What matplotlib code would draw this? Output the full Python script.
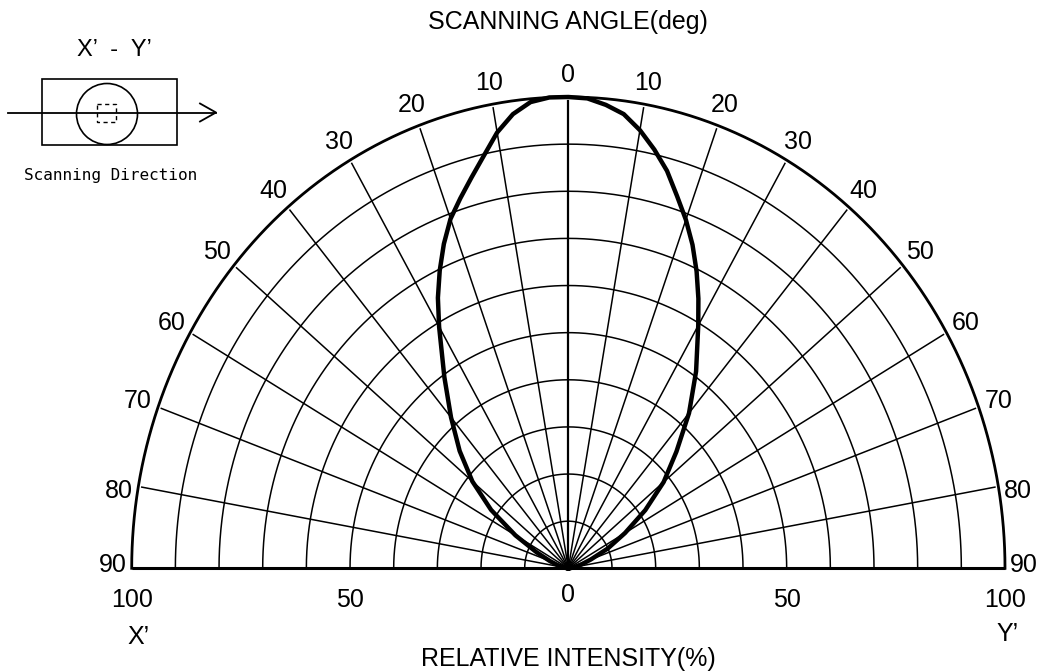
import numpy as np
import matplotlib
matplotlib.use("Agg")
import matplotlib.pyplot as plt
from matplotlib.patches import Rectangle, Circle

# angulos de varredura (graus a partir da vertical) e intensidade relativa (%)
angulos = [0, 2.5, 5, 7.5, 10, 12.5, 15, 17.5, 20, 22.5, 25, 27.5, 30,
           35, 40, 45, 50, 55, 60, 65, 70, 75, 80, 85, 90]
intens_esq = [100, 100, 99.3, 97.2, 93.9, 89.6, 85.8, 82.3, 78.9, 74.5, 69.7, 64.7, 59.2,
              49.5, 41.8, 35.2, 28.7, 21.6, 14.0, 8.0, 4.5, 2.5, 1.2, 0.5, 0]
intens_dir = [100, 99.8, 98.7, 97.2, 94.4, 91.0, 87.3, 82.8, 78.7, 74.3, 69.5, 64.5, 59.5,
              51.0, 43.0, 35.0, 28.5, 21.5, 15.0, 10.0, 5.5, 3.0, 1.5, 0.5, 0]

aneis = [10, 20, 30, 40, 50, 60, 70, 80, 90, 100]
raios_ang = [-80, -70, -60, -50, -40, -30, -20, -10, 0, 10, 20, 30, 40, 50, 60, 70, 80]
rotulos_ang = [0, 10, 20, 30, 40, 50, 60, 70, 80, 90]
rotulos_x = [-100, -50, 0, 50, 100]

fonte = ['Liberation Sans', 'DejaVu Sans']
TAM = 18

W, H = 1046, 672
PX_X = 873.3 / 200   # pixels por unidade em x
PX_Y = 471.3 / 100   # pixels por unidade em y
fig = plt.figure(figsize=(W / 100, H / 100), dpi=100)
fig.patch.set_facecolor('white')

# eixo principal: x de -100 a 100, y de 0 a 100
ax = fig.add_axes([131.7 / W, (H - 568.3) / H, 873.3 / W, 471.3 / H])
ax.set_xlim(-100, 100)
ax.set_ylim(0, 100)
ax.axis('off')

# meia altura das maiusculas em unidades de y (para centrar o texto pela tinta)
meia = 0.716 * TAM * 100 / 72 / 2 / PX_Y


def texto(x, y, s, tam=TAM):
    ax.text(x, y - meia * tam / TAM, s, ha='center', va='baseline', fontsize=tam,
            family=fonte, clip_on=False)


t = np.radians(np.linspace(-90, 90, 721))

# aneis (circulos de intensidade)
for r in aneis:
    lw = 2.0 if r == 100 else 1.1
    ax.plot(r * np.sin(t), r * np.cos(t), color='black', lw=lw, clip_on=False)

# raios (linhas de angulo)
for a in raios_ang:
    th = np.radians(a)
    lw = 1.6 if a == 0 else 1.1
    ax.plot([0, 99.2 * np.sin(th)], [0, 99.2 * np.cos(th)], color='black', lw=lw, clip_on=False)

# linha de base
ax.plot([-100, 100], [0, 0], color='black', lw=2.2, clip_on=False, solid_capstyle='butt')

# curva de intensidade
th_e = -np.radians(angulos[::-1])
r_e = np.array(intens_esq[::-1])
th_d = np.radians(angulos[1:])
r_d = np.array(intens_dir[1:])
th_all = np.concatenate([th_e, th_d])
r_all = np.concatenate([r_e, r_d])
ax.plot(r_all * np.sin(th_all), r_all * np.cos(th_all), color='black', lw=3.2,
        solid_joinstyle='round', clip_on=False)

# rotulos de angulo
for a in rotulos_ang:
    for s in ([1] if a == 0 else [-1, 1]):
        if a < 80:
            rr, aa = 105.0, a
        elif a == 80:
            rr, aa = 104.4, a + 0.7
        else:
            rr, aa = 104.4, a - 0.6
        th = np.radians(s * aa)
        texto(rr * np.sin(th), rr * np.cos(th), str(a))

# rotulos de intensidade
for v in rotulos_x:
    texto(v, -6.3 if v != 0 else -5.2, str(abs(v)))

texto(-98.5, -14.2, 'X’')
texto(100.5, -13.6, 'Y’')
texto(0, -18.9, 'RELATIVE INTENSITY(%)')
texto(0, 116.3, 'SCANNING ANGLE(deg)')

# diagrama da direcao de varredura (coordenadas em pixels)
axi = fig.add_axes([0, 0, 1, 1], facecolor='none')
axi.set_xlim(0, W)
axi.set_ylim(H, 0)
axi.axis('off')
axi.add_patch(Rectangle((42, 79), 135, 66, fill=False, ec='black', lw=1.2))
axi.add_patch(Circle((107, 114), 30.5, fill=False, ec='black', lw=1.2))
axi.add_patch(Rectangle((97, 103.5), 19, 18, fill=False, ec='black', lw=1.0, ls=(0, (3, 2.5))))
axi.plot([8, 216], [112.5, 112.5], color='black', lw=1.3)
axi.plot([200, 216, 200], [103.5, 112.5, 121.5], color='black', lw=1.3)
axi.text(114, 56, 'X’  -  Y’', ha='center', va='baseline', fontsize=17, family=fonte)
axi.text(111, 180, 'Scanning Direction', ha='center', va='baseline', fontsize=11.5,
         family=['DejaVu Sans Mono'])

fig.savefig('out.png', dpi=100, facecolor='white')
